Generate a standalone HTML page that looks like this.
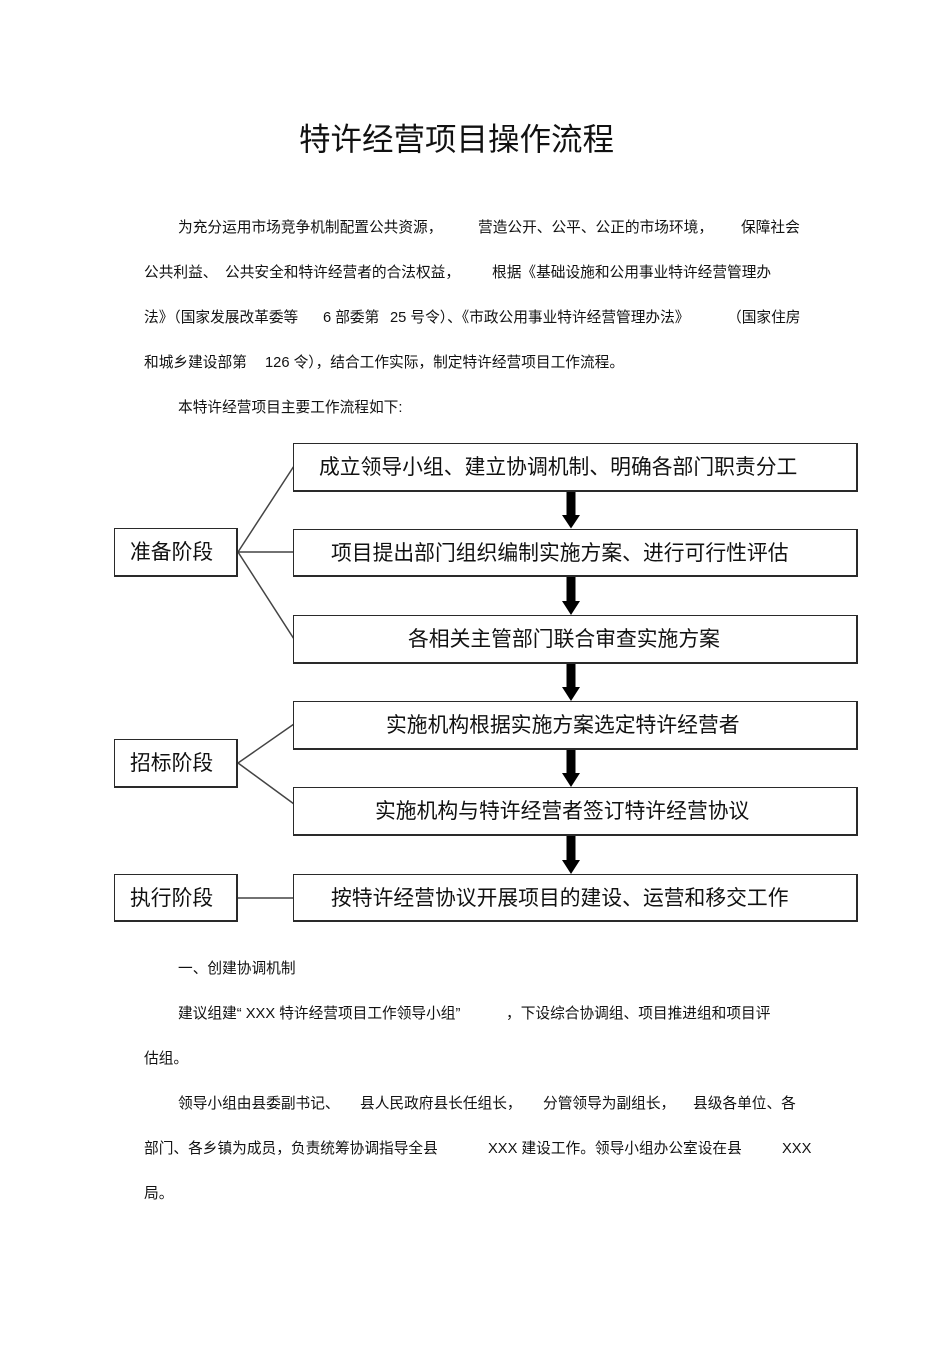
<!DOCTYPE html>
<html><head><meta charset="utf-8">
<style>
html,body{margin:0;padding:0;background:#fff;}
body{width:950px;height:1345px;position:relative;overflow:hidden;font-family:"Liberation Sans","Noto Sans CJK SC",sans-serif;color:#111;}
.t{position:absolute;white-space:nowrap;line-height:1;}
.b{font-size:14.7px;}
.bx{font-size:20.8px;}
.box{position:absolute;box-sizing:border-box;border:1.5px solid #2a2a2a;border-right-width:2px;border-bottom-width:2px;background:#fff;}
</style></head><body>

<div class="t" style="left:299px;top:124px;font-size:31.5px;">特许经营项目操作流程</div>

<!-- paragraph 1 -->
<div class="t b" style="left:178px;top:221px;">为充分运用市场竞争机制配置公共资源，</div>
<div class="t b" style="left:478px;top:221px;">营造公开、公平、公正的市场环境，</div>
<div class="t b" style="left:741px;top:221px;">保障社会</div>

<div class="t b" style="left:144px;top:266px;">公共利益、</div>
<div class="t b" style="left:225px;top:266px;">公共安全和特许经营者的合法权益，</div>
<div class="t b" style="left:492px;top:266px;">根据《基础设施和公用事业特许经营管理办</div>

<div class="t b" style="left:144px;top:311px;">法》（国家发展改革委等</div>
<div class="t b" style="left:323px;top:311px;">6 部委第</div>
<div class="t b" style="left:390px;top:311px;">25 号令）、《市政公用事业特许经营管理办法》</div>
<div class="t b" style="left:727px;top:311px;">（国家住房</div>

<div class="t b" style="left:144px;top:356px;">和城乡建设部第</div>
<div class="t b" style="left:265px;top:356px;">126 令），结合工作实际，制定特许经营项目工作流程。</div>

<div class="t b" style="left:178px;top:401px;">本特许经营项目主要工作流程如下:</div>

<!-- diagram lines & arrows -->
<svg width="950" height="1345" style="position:absolute;left:0;top:0;" xmlns="http://www.w3.org/2000/svg">
  <g stroke="#444" stroke-width="1.5" fill="none">
    <line x1="238" y1="552" x2="294" y2="466"/>
    <line x1="238" y1="552" x2="294" y2="552"/>
    <line x1="238" y1="552" x2="294" y2="639"/>
    <line x1="238" y1="763" x2="294" y2="724"/>
    <line x1="238" y1="763" x2="294" y2="804"/>
    <line x1="238" y1="898" x2="294" y2="898"/>
  </g>
  <g fill="#000">
    <polygon points="566.5,491 575.5,491 575.5,515 580,515 571,528.5 562,515 566.5,515"/>
    <polygon points="566.5,576 575.5,576 575.5,601 580,601 571,615 562,601 566.5,601"/>
    <polygon points="566.5,663 575.5,663 575.5,687 580,687 571,701 562,687 566.5,687"/>
    <polygon points="566.5,749 575.5,749 575.5,773 580,773 571,787 562,773 566.5,773"/>
    <polygon points="566.5,835 575.5,835 575.5,860 580,860 571,874 562,860 566.5,860"/>
  </g>
</svg>

<!-- right boxes -->
<div class="box" style="left:293px;top:443px;width:565px;height:49px;"></div>
<div class="box" style="left:293px;top:529px;width:565px;height:48px;"></div>
<div class="box" style="left:293px;top:615px;width:565px;height:49px;"></div>
<div class="box" style="left:293px;top:701px;width:565px;height:49px;"></div>
<div class="box" style="left:293px;top:787px;width:565px;height:49px;"></div>
<div class="box" style="left:293px;top:874px;width:565px;height:48px;"></div>

<!-- left boxes -->
<div class="box" style="left:114px;top:528px;width:124px;height:49px;"></div>
<div class="box" style="left:114px;top:739px;width:124px;height:49px;"></div>
<div class="box" style="left:114px;top:874px;width:124px;height:48px;"></div>

<div class="t bx" style="left:319px;top:458px;">成立领导小组、建立协调机制、明确各部门职责分工</div>
<div class="t bx" style="left:331px;top:544px;">项目提出部门组织编制实施方案、进行可行性评估</div>
<div class="t bx" style="left:408px;top:630px;">各相关主管部门联合审查实施方案</div>
<div class="t bx" style="left:386px;top:716px;">实施机构根据实施方案选定特许经营者</div>
<div class="t bx" style="left:375px;top:802px;">实施机构与特许经营者签订特许经营协议</div>
<div class="t bx" style="left:331px;top:889px;">按特许经营协议开展项目的建设、运营和移交工作</div>

<div class="t bx" style="left:130px;top:543px;">准备阶段</div>
<div class="t bx" style="left:130px;top:754px;">招标阶段</div>
<div class="t bx" style="left:130px;top:889px;">执行阶段</div>

<!-- section 1 -->
<div class="t b" style="left:178px;top:962px;">一、创建协调机制</div>

<div class="t b" style="left:178px;top:1007px;">建议组建“ XXX 特许经营项目工作领导小组”</div>
<div class="t b" style="left:506px;top:1007px;">，下设综合协调组、项目推进组和项目评</div>
<div class="t b" style="left:144px;top:1052px;">估组。</div>

<div class="t b" style="left:178px;top:1097px;">领导小组由县委副书记、</div>
<div class="t b" style="left:360px;top:1097px;">县人民政府县长任组长，</div>
<div class="t b" style="left:543px;top:1097px;">分管领导为副组长，</div>
<div class="t b" style="left:693px;top:1097px;">县级各单位、各</div>

<div class="t b" style="left:144px;top:1142px;">部门、各乡镇为成员，负责统筹协调指导全县</div>
<div class="t b" style="left:488px;top:1142px;">XXX 建设工作。领导小组办公室设在县</div>
<div class="t b" style="left:782px;top:1142px;">XXX</div>
<div class="t b" style="left:144px;top:1187px;">局。</div>

</body></html>
